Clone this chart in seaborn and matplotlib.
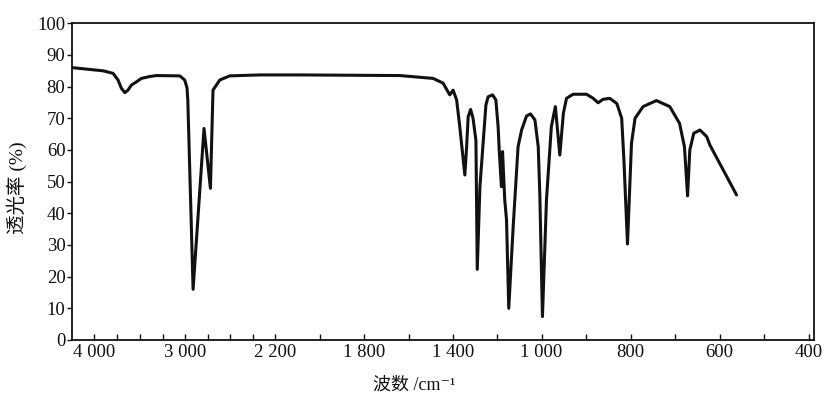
import numpy as np
import pandas as pd
import matplotlib
matplotlib.use("Agg")
import matplotlib.pyplot as plt
import seaborn as sns

# ---- data ----
wavenumber = [4245, 3906, 3796, 3741, 3704, 3667, 3631, 3594, 3539, 3484, 3392, 3319,
              3063, 3008, 2986, 2979, 2932, 2835, 2778, 2755, 2695, 2606, 2340, 2090,
              1639, 1489, 1444, 1414, 1399, 1383, 1369, 1346, 1338, 1331, 1320, 1309,
              1296, 1290, 1278, 1251, 1241, 1221, 1206, 1196, 1191, 1181, 1176, 1166,
              1158, 1148, 1128, 1106, 1090, 1068, 1050, 1030, 1015, 1008, 998, 989,
              978, 969, 959, 951, 944, 929, 899, 884, 873, 862, 847, 831, 820, 815,
              807, 798, 790, 772, 742, 712, 690, 679, 672, 667, 658, 644, 629, 622, 562]
transmittance = [86.0, 85.0, 84.2, 82.1, 79.5, 78.1, 78.9, 80.5, 81.5, 82.6, 83.2, 83.5,
                 83.4, 82.1, 79.6, 75.8, 16.0, 66.8, 47.9, 78.9, 82.1, 83.4, 83.7, 83.7,
                 83.5, 82.6, 81.1, 77.4, 78.9, 75.8, 67.4, 52.1, 61.0, 70.5, 72.8, 70.0,
                 63.0, 22.3, 48.4, 74.2, 76.8, 77.4, 75.8, 67.4, 60.0, 48.4, 59.5, 44.2,
                 37.9, 10.0, 35.8, 61.0, 66.3, 70.7, 71.4, 69.5, 61.0, 46.3, 7.4, 44.2,
                 67.4, 73.7, 58.4, 71.6, 76.3, 77.6, 77.6, 76.3, 74.9, 76.0, 76.3, 74.7, 70.0, 56.8,
                 30.3, 62.1, 70.0, 73.7, 75.6, 73.7, 68.4, 61.0, 45.5, 60.0, 65.3, 66.3, 64.2, 61.6, 45.8]

tick_values = [4000, 3750, 3500, 3250, 3000, 2800, 2600, 2400, 2200, 2000, 1800, 1600,
               1400, 1200, 1000, 900, 800, 700, 600, 500, 400]
tick_texts = ["4 000", "", "", "", "3 000", "", "", "", "2 200", "", "1 800", "",
              "1 400", "", "1 000", "", "800", "", "600", "", "400"]
y_ticks = list(range(0, 101, 10))

df = pd.DataFrame({"wn": wavenumber, "T": transmittance})

# ---- non-linear (piecewise) wavenumber axis as printed ----
_W = np.array([0, 400, 1000, 2200, 3000, 4250, 10000], dtype=float)
_P = np.array([986.7, 808.7, 541.7, 275.7, 185.7, 72.0, -451.0], dtype=float)

def fwd(w):
    return np.interp(np.asarray(w, dtype=float), _W, _P)

def inv(p):
    return np.interp(np.asarray(p, dtype=float), _P[::-1], _W[::-1])

sns.set_theme(style="ticks")
plt.rcParams["font.family"] = ["Liberation Serif", "Noto Sans CJK SC", "DejaVu Sans"]

fig = plt.figure(figsize=(8.26, 3.97), dpi=100)
ax = fig.add_axes([71.7 / 826, 1 - 340 / 397, (814 - 71.7) / 826, (340 - 23.3) / 397])
ax.set_xscale("function", functions=(fwd, inv))

sns.lineplot(data=df, x="wn", y="T", sort=False, estimator=None,
             color="#111111", linewidth=2.2, ax=ax)

ax.set_xlim(388, 4250)
ax.set_ylim(0, 100)
ax.set_xticks(tick_values)
ax.set_xticklabels(tick_texts)
ax.set_yticks(y_ticks)
ax.xaxis.set_minor_locator(matplotlib.ticker.NullLocator())
ax.yaxis.set_minor_locator(matplotlib.ticker.NullLocator())

ax.tick_params(axis="x", direction="in", length=4, width=1, pad=3,
               labelsize=13.5, colors="#111111")
ax.tick_params(axis="y", direction="out", length=3.5, width=1, pad=1,
               labelsize=13.5, colors="#111111")
for s in ax.spines.values():
    s.set_linewidth(1.3)
    s.set_color("#111111")

ax.set_xlabel("波数 /cm\u207b\u00b9", fontsize=13, color="#111111")
ax.set_ylabel("透光率 (%)", fontsize=14, color="#111111")
ax.xaxis.set_label_coords((414 - 71.7) / 742.3, (340 - 385) / 316.7)
ax.yaxis.set_label_coords((17 - 71.7) / 742.3, (340 - 188) / 316.7)
ax.xaxis.label.set_va("center")
ax.yaxis.label.set_va("center")

fig.savefig("out.png", dpi=100, facecolor="white")
